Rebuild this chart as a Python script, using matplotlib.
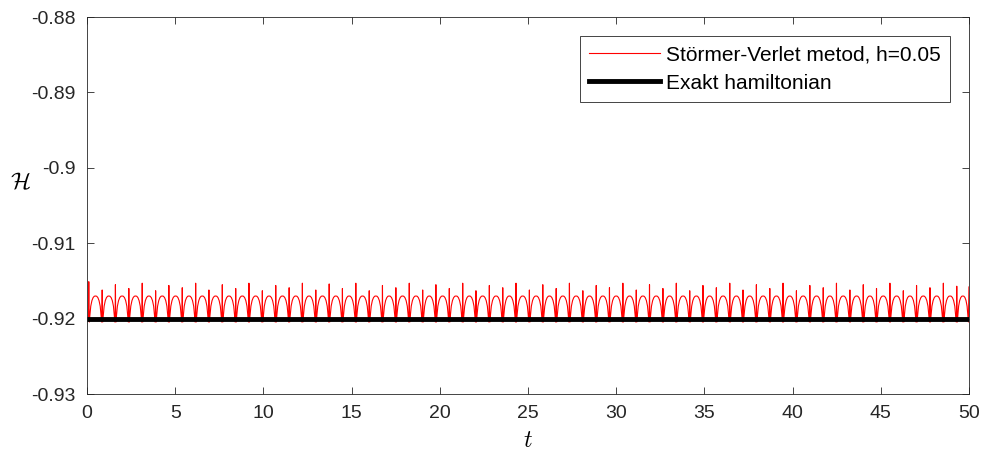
import matplotlib.pyplot as plt
import numpy as np

# times where the red curve spikes (between arches)
spike_t = [0.10, 0.86, 1.61, 2.37, 3.13, 3.89, 4.64, 5.40, 6.16, 6.91, 7.67, 8.43,
           9.18, 9.94, 10.70, 11.46, 12.21, 12.97, 13.73, 14.48, 15.24, 16.00, 16.75,
           17.51, 18.27, 19.03, 19.78, 20.54, 21.30, 22.05, 22.81, 23.57, 24.32, 25.08,
           25.84, 26.60, 27.35, 28.11, 28.87, 29.62, 30.38, 31.14, 31.89, 32.65, 33.41,
           34.17, 34.92, 35.68, 36.44, 37.19, 37.95, 38.71, 39.46, 40.22, 40.98, 41.74,
           42.49, 43.25, 44.01, 44.76, 45.52, 46.28, 47.03, 47.79, 48.55, 49.31, 50.0]
# spike tops
spike_h = [-0.9151, -0.9162, -0.9155, -0.9160, -0.9153, -0.9163, -0.9156, -0.9159,
           -0.9153, -0.9162, -0.9155, -0.9160, -0.9153, -0.9163, -0.9156, -0.9159,
           -0.9153, -0.9162, -0.9154, -0.9160, -0.9153, -0.9163, -0.9156, -0.9159,
           -0.9153, -0.9162, -0.9155, -0.9160, -0.9153, -0.9163, -0.9156, -0.9159,
           -0.9153, -0.9162, -0.9155, -0.9160, -0.9153, -0.9163, -0.9156, -0.9159,
           -0.9153, -0.9162, -0.9155, -0.9160, -0.9153, -0.9163, -0.9156, -0.9159,
           -0.9153, -0.9162, -0.9155, -0.9160, -0.9153, -0.9163, -0.9156, -0.9159,
           -0.9153, -0.9162, -0.9155, -0.9160, -0.9153, -0.9163, -0.9156, -0.9159,
           -0.9153, -0.9157, -0.9158]
arch_top = -0.9170
dip = -0.92045
# shape of one arch (fraction of arch height)
arch_shape = [0.0, 0.55, 0.80, 0.93, 0.99, 1.0, 0.99, 0.93, 0.80, 0.55, 0.0]

H_exact = -0.92
base = -0.9200

t = [0.0]
H = [base]
for i in range(len(spike_t) - 1):
    t0, t1 = spike_t[i], spike_t[i + 1]
    t += [t0 - 0.015, t0, t0 + 0.015, t0 + 0.03]
    H += [base, spike_h[i], base, dip]
    a0, a1 = t0 + 0.045, t1 - 0.045
    xs = np.linspace(a0, a1, len(arch_shape))
    for x, s in zip(xs, arch_shape):
        t.append(x)
        H.append(base + s * (arch_top - base))
    t.append(t1 - 0.03)
    H.append(dip)
t.append(50.0)
H.append(spike_h[-1])

plt.rcParams['font.family'] = ['Liberation Sans', 'DejaVu Sans']
plt.rcParams['mathtext.fontset'] = 'cm'

fig = plt.figure(figsize=(9.81, 4.55), dpi=100)
ax = fig.add_axes([0.0887, 0.134, 0.899, 0.8286])

ax.plot(t, H, color='red', lw=0.8, label='Störmer-Verlet metod, h=0.05')
ax.plot([0, 50], [H_exact, H_exact], color='black', lw=3.5, label='Exakt hamiltonian')

ax.set_xlim(0, 50)
ax.set_ylim(-0.93, -0.88)
ax.set_xticks(np.arange(0, 51, 5))
yt = [-0.93, -0.92, -0.91, -0.9, -0.89, -0.88]
ax.set_yticks(yt)
ax.set_yticklabels(['-0.93', '-0.92', '-0.91', '-0.9', '-0.89', '-0.88'])
ax.tick_params(direction='in', length=5, width=0.6, top=True, right=True,
               labelsize=14, colors='#262626', pad=8)
for sp in ax.spines.values():
    sp.set_color('#262626')
    sp.set_linewidth(0.6)

ax.set_xlabel('$t$', fontsize=17, labelpad=6)
ax.set_ylabel(r'$\mathcal{H}$', fontsize=17, rotation=0, va='center', ha='center')
ax.yaxis.set_label_coords(-0.075, 0.56)

leg = ax.legend(loc='upper right', fontsize=15, fancybox=False, framealpha=1,
                edgecolor='#262626', borderaxespad=0.9, handlelength=3.4,
                handletextpad=0.3, borderpad=0.45, labelspacing=0.45)
leg.get_frame().set_linewidth(0.6)

fig.savefig('out.png', dpi=100)
